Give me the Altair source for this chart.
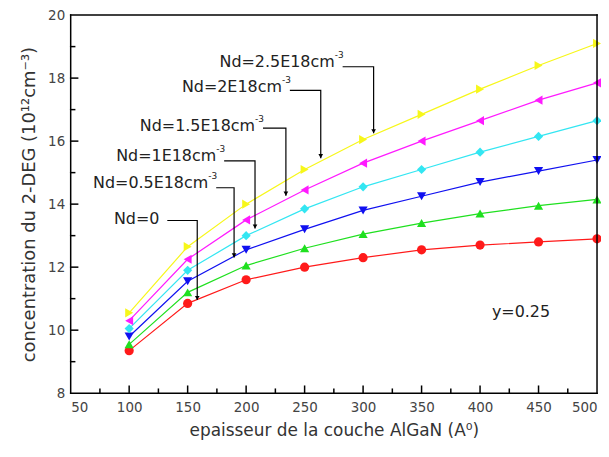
import altair as alt
import pandas as pd

# ---- data ----
thickness = [100, 150, 200, 250, 300, 350, 400, 450, 500]
series_names = ["Nd=0", "Nd=0.5E18", "Nd=1E18", "Nd=1.5E18", "Nd=2E18", "Nd=2.5E18"]
nd0 = [9.35, 10.85, 11.6, 12.0, 12.3, 12.55, 12.7, 12.8, 12.9]
nd05 = [9.55, 11.2, 12.05, 12.6, 13.05, 13.4, 13.7, 13.95, 14.15]
nd1 = [9.8, 11.55, 12.55, 13.2, 13.8, 14.25, 14.7, 15.05, 15.4]
nd15 = [10.05, 11.9, 13.0, 13.85, 14.55, 15.1, 15.65, 16.15, 16.65]
nd2 = [10.3, 12.25, 13.5, 14.45, 15.3, 16.0, 16.65, 17.3, 17.85]
nd25 = [10.55, 12.65, 14.0, 15.1, 16.05, 16.85, 17.65, 18.4, 19.1]
colors = ["#ff1a1a", "#1fe01f", "#1010f0", "#33e6f2", "#ff1aff", "#f7f71a"]
shapes = ["circle", "triangle-up", "triangle-down", "diamond", "triangle-left", "triangle-right"]

# annotation callouts: label, text position (x,y), elbow line y, arrow x, arrow tip y
ann_labels = ["Nd=2.5E18cm", "Nd=2E18cm", "Nd=1.5E18cm", "Nd=1E18cm", "Nd=0.5E18cm", "Nd=0"]
ann_sup = ["-3", "-3", "-3", "-3", "-3", ""]
ann_text_x = [282.5, 237.4, 214.4, 181.2, 174.4, 132.6]
ann_text_y = [18.46, 17.64, 16.41, 15.46, 14.61, 13.48]
ann_line_y = [18.36, 17.61, 16.41, 15.37, 14.52, 13.48]
ann_arrow_x = [309.0, 263.8, 234.0, 207.6, 189.7, 158.2]
ann_arrow_y = [16.25, 15.46, 14.27, 13.23, 12.31, 10.96]

x_major = [50, 100, 150, 200, 250, 300, 350, 400, 450, 500]
x_minor = [75, 125, 175, 225, 275, 325, 375, 425, 475]
y_major = [8, 10, 12, 14, 16, 18, 20]
y_minor = [9, 11, 13, 15, 17, 19]

# ---- tables ----
all_vals = [nd0, nd05, nd1, nd15, nd2, nd25]
rows = []
for name, vals in zip(series_names, all_vals):
    for t, v in zip(thickness, vals):
        rows.append({"series": name, "x": t, "y": v})
df = pd.DataFrame(rows)

path_rows = []
for i, lab in enumerate(ann_labels):
    path_rows.append({"id": i, "o": 0, "x": ann_text_x[i], "y": ann_line_y[i]})
    path_rows.append({"id": i, "o": 1, "x": ann_arrow_x[i], "y": ann_line_y[i]})
    path_rows.append({"id": i, "o": 2, "x": ann_arrow_x[i], "y": ann_arrow_y[i]})
paths = pd.DataFrame(path_rows)
ann = pd.DataFrame({"label": ann_labels, "sup": ann_sup, "x": ann_text_x, "y": ann_text_y,
                    "ax": ann_arrow_x, "ay": ann_arrow_y})

# frame + inward ticks as short polylines (lengths in axis units: ~7px major, ~4px minor)
XPX = 450 / 529.0
YPX = 12 / 380.0
seg = []
k = 0
def add(x1, y1, x2, y2):
    global k
    seg.append({"id": k, "o": 0, "x": x1, "y": y1})
    seg.append({"id": k, "o": 1, "x": x2, "y": y2})
    k += 1
# frame (left, bottom, right, top)
add(50, 8, 50, 20)
add(50, 8, 500, 8)
add(500, 8, 500, 20)
add(50, 20, 500, 20)
for v in x_major[1:-1]:
    add(v, 8, v, 8 + 7 * YPX)
for v in x_minor:
    add(v, 8, v, 8 + 4 * YPX)
for v in y_major[1:-1]:
    add(50, v, 50 + 7 * XPX, v)
for v in y_minor:
    add(50, v, 50 + 4 * XPX, v)
seg_df = pd.DataFrame(seg)

xs = alt.Scale(domain=[50, 500], nice=False, zero=False)
ys = alt.Scale(domain=[8, 20], nice=False, zero=False)
col = alt.Scale(domain=series_names, range=colors)
shp = alt.Scale(domain=series_names, range=shapes)

FONT = "DejaVu Sans"

base = alt.Chart(df)
lines = base.mark_line(strokeWidth=1.2).encode(
    x=alt.X("x:Q", scale=xs,
            axis=alt.Axis(values=x_major, format="d", domain=False, ticks=False, grid=False,
                          labelFont=FONT, labelFontSize=13.5, labelColor="#444", labelPadding=7,
                          title="epaisseur de la couche AlGaN (A⁰)", titleFont=FONT,
                          titleFontSize=17, titleFontWeight="normal", titleColor="#333",
                          titlePadding=9)),
    y=alt.Y("y:Q", scale=ys,
            axis=alt.Axis(values=y_major, format="d", domain=False, ticks=False, grid=False,
                          labelFont=FONT, labelFontSize=13.5, labelColor="#444", labelPadding=6,
                          title="concentration du 2-DEG (10¹²cm⁻³)", titleFont=FONT,
                          titleFontSize=18, titleFontWeight="normal", titleColor="#333",
                          titlePadding=9)),
    color=alt.Color("series:N", scale=col, legend=None),
    detail="series:N",
)
points = base.mark_point(filled=True, size=85, opacity=1).encode(
    x=alt.X("x:Q", scale=xs),
    y=alt.Y("y:Q", scale=ys),
    color=alt.Color("series:N", scale=col, legend=None),
    shape=alt.Shape("series:N", scale=shp, legend=None),
)

frame = alt.Chart(seg_df).mark_line(color="black", strokeWidth=1.5, strokeCap="square").encode(
    x=alt.X("x:Q", scale=xs), y=alt.Y("y:Q", scale=ys), detail="id:N", order="o:Q")

ann_lines = alt.Chart(paths).mark_line(color="black", strokeWidth=1.2).encode(
    x=alt.X("x:Q", scale=xs), y=alt.Y("y:Q", scale=ys), detail="id:N", order="o:Q")
ann_heads = alt.Chart(ann).mark_point(shape="triangle-down", filled=True, color="black",
                                      size=22, opacity=1, yOffset=-2).encode(
    x=alt.X("ax:Q", scale=xs), y=alt.Y("ay:Q", scale=ys))
ann_text = alt.Chart(ann).mark_text(font=FONT, fontSize=16, align="right", baseline="middle",
                                    color="#222", dx=-8, dy=-2).encode(
    x=alt.X("x:Q", scale=xs), y=alt.Y("y:Q", scale=ys), text="label:N")
ann_sup_text = alt.Chart(ann).mark_text(font=FONT, fontSize=9, align="left", baseline="middle",
                                        color="#222", dx=-8, dy=-9).encode(
    x=alt.X("x:Q", scale=xs), y=alt.Y("y:Q", scale=ys), text="sup:N")

yval = alt.Chart(pd.DataFrame({"t": ["y=0.25"], "x": [435], "y": [10.58]})).mark_text(
    font=FONT, fontSize=16, color="#222", align="center", baseline="middle").encode(
    x=alt.X("x:Q", scale=xs), y=alt.Y("y:Q", scale=ys), text="t:N")

chart = alt.layer(
    lines, points, frame, ann_lines, ann_heads, ann_text, ann_sup_text, yval
).properties(
    width=529, height=380,
    autosize=alt.AutoSizeParams(type="none"),
    padding={"left": 63, "top": 6, "right": 4, "bottom": 60},
    background="white",
).configure_view(stroke=None)

chart.save("out.html", embed_options={"renderer": "svg", "actions": False})
